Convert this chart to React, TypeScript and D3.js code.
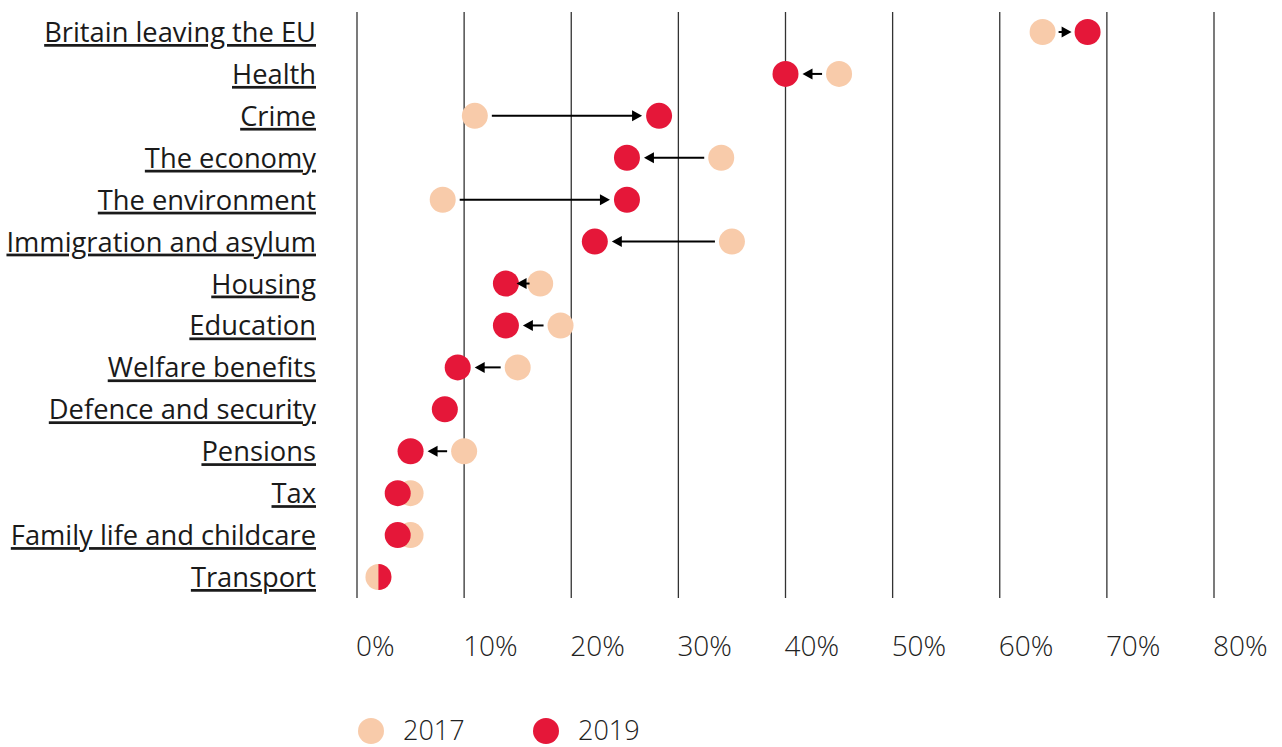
import React from "react";
import * as d3 from "d3";

// issues, top to bottom
const issues = [
  "Britain leaving the EU",
  "Health",
  "Crime",
  "The economy",
  "The environment",
  "Immigration and asylum",
  "Housing",
  "Education",
  "Welfare benefits",
  "Defence and security",
  "Pensions",
  "Tax",
  "Family life and childcare",
  "Transport",
];

// share naming the issue (%), null = not asked
const values2017: (number | null)[] = [64.0, 45.0, 11.0, 34.0, 8.0, 35.0, 17.1, 19.0, 15.0, null, 10.0, 5.0, 5.0, 2.0];
const values2019: number[] = [68.2, 40.0, 28.2, 25.2, 25.2, 22.2, 13.9, 13.9, 9.4, 8.2, 5.0, 3.8, 3.8, 2.0];

const xTicks = [0, 10, 20, 30, 40, 50, 60, 70, 80];
const legendYears = ["2017", "2019"];

const WIDTH = 1282;
const HEIGHT = 747;
const PEACH = "#f8cbaa";
const RED = "#e51739";
const R = 13;
const FONT = "'Open Sans', sans-serif";

export default function App() {
  const x = d3.scaleLinear().domain([0, 80]).range([357, 1214]);
  const y = d3.scalePoint<string>().domain(issues).range([32, 577]);

  // arrow from 2017 dot towards 2019 dot, leaving a small gap on both sides
  function arrow(v17: number, v19: number) {
    const a = x(v17);
    const b = x(v19);
    const dir = Math.sign(b - a);
    let start = a + dir * (R + 4);
    let end = b - dir * (R + 4);
    if (Math.abs(end - start) < 13) {
      const mid = (a + b) / 2;
      start = mid - dir * 6.5;
      end = mid + dir * 6.5;
    }
    return { start, end, dir };
  }

  return (
    <svg
      width={WIDTH}
      height={HEIGHT}
      style={{ position: "absolute", left: 0, top: 0, background: "#fff" }}
      fontFamily={FONT}
    >
      <defs>
        {issues.map((d, i) => (
          <clipPath id={`half-${i}`} key={d}>
            <rect x={x(values2017[i] ?? 0)} y={y(d)! - R} width={R + 1} height={R * 2} />
          </clipPath>
        ))}
      </defs>

      {/* vertical gridlines */}
      {xTicks.map((t) => (
        <line key={t} x1={x(t)} x2={x(t)} y1={12} y2={598} stroke="#333" strokeWidth={1.3} />
      ))}

      {/* x tick labels */}
      {xTicks.map((t) => (
        <text key={t} x={x(t) - 1} y={656} fontSize={28} fontWeight={300} fill="#222">
          {t}%
        </text>
      ))}

      {/* row labels */}
      {issues.map((d) => (
        <text
          key={d}
          x={316}
          y={y(d)! + 10}
          textAnchor="end"
          fontSize={27.3}
          fill="#1a1a1a"
          textDecoration="underline"
        >
          {d}
        </text>
      ))}

      {/* dots */}
      {issues.map((d, i) => {
        const v17 = values2017[i];
        const v19 = values2019[i];
        const same = v17 !== null && v17 === v19;
        return (
          <g key={d}>
            {v17 !== null && <circle cx={x(v17)} cy={y(d)} r={R} fill={PEACH} />}
            <circle
              cx={x(v19)}
              cy={y(d)}
              r={R}
              fill={RED}
              clipPath={same ? `url(#half-${i})` : undefined}
            />
          </g>
        );
      })}

      {/* arrows */}
      {issues.map((d, i) => {
        const v17 = values2017[i];
        const v19 = values2019[i];
        if (v17 === null || Math.abs(x(v19) - x(v17)) < 2 * R + 6) return null;
        const { start, end, dir } = arrow(v17, v19);
        const cy = y(d)!;
        const head = d3.path();
        head.moveTo(end, cy);
        head.lineTo(end - dir * 10, cy - 5.5);
        head.lineTo(end - dir * 10, cy + 5.5);
        head.closePath();
        return (
          <g key={d}>
            <line x1={start} x2={end - dir * 8} y1={cy} y2={cy} stroke="#000" strokeWidth={2} />
            <path d={head.toString()} fill="#000" />
          </g>
        );
      })}

      {/* legend */}
      {legendYears.map((yr, i) => (
        <g key={yr} transform={`translate(${371 + i * 175},731)`}>
          <circle r={R} fill={i === 0 ? PEACH : RED} />
          <text x={32} y={9} fontSize={27} fontWeight={300} fill="#222">
            {yr}
          </text>
        </g>
      ))}
    </svg>
  );
}
